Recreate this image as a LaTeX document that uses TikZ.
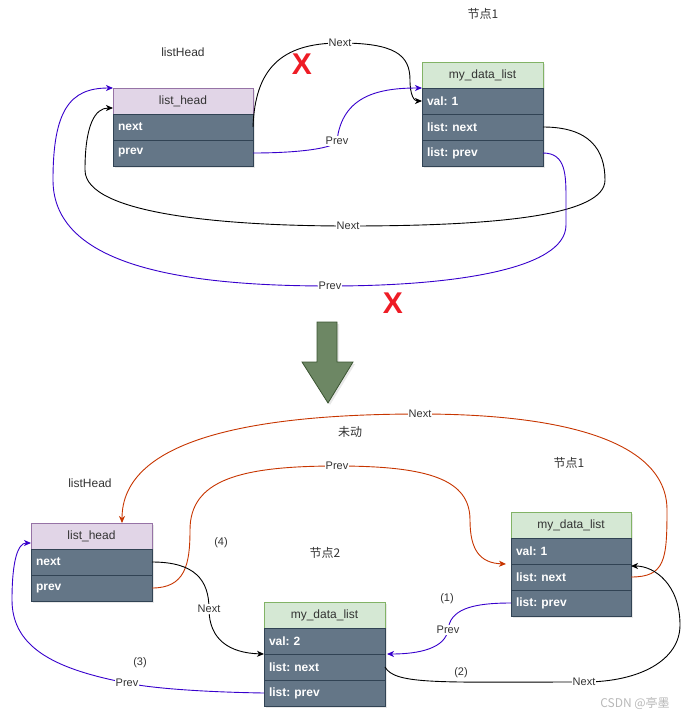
\documentclass[tikz,border=0pt]{standalone}
\usepackage{fontspec}
\setmainfont{Liberation Sans}
\newfontfamily\cjk{Noto Sans CJK SC}
\usetikzlibrary{arrows.meta,calc,shadows}
\definecolor{lilacF}{HTML}{E1D5E7}
\definecolor{lilacD}{HTML}{9673A6}
\definecolor{greenF}{HTML}{D5E8D4}
\definecolor{greenD}{HTML}{82B366}
\definecolor{rowF}{HTML}{647687}
\definecolor{rowD}{HTML}{314354}
\definecolor{txt}{HTML}{333333}
\definecolor{redE}{HTML}{C73500}
\definecolor{blueE}{HTML}{3700CC}
\definecolor{arrF}{HTML}{6D8764}
\definecolor{arrD}{HTML}{3A5431}
\definecolor{crossR}{HTML}{EE1C25}
\newcommand\myfA{\fontsize{12}{14}\selectfont}
\newcommand\myfB{\fontsize{11}{13}\selectfont}
\frenchspacing
\begin{document}
\begin{tikzpicture}[x=1pt,y=-1pt,
  box/.style={anchor=north west, inner ysep=0pt, minimum height=26pt, outer sep=0pt,
    drop shadow={opacity=0.18,shadow xshift=2pt,shadow yshift=-2pt}},
  hdrL/.style={box, draw=lilacD, fill=lilacF, text=txt, minimum width=#1, inner xsep=0pt, font=\myfA},
  hdrG/.style={box, draw=greenD, fill=greenF, text=txt, minimum width=#1, inner xsep=0pt, font=\myfA},
  rowbox/.style={box, draw=rowD, fill=rowF, text=white, text width=#1, inner xsep=5pt, align=left, font=\myfA\bfseries\frenchspacing},
  edge/.style={line width=0.9pt, -{Stealth[length=7pt,width=6pt,inset=2pt]}},
  lbl/.style={fill=white, inner sep=1pt, font=\myfB, text=txt},
  note/.style={font=\myfA, text=txt},
  snote/.style={font=\myfB, text=txt},
  cross/.style={font=\fontsize{30}{30}\selectfont\bfseries, text=crossR, inner sep=0pt}
]
\useasboundingbox (0,0) rectangle (685,718);

% ---------- top part ----------
\node[hdrL=140pt] (lhh) at (113,88) {list\_head};
\node[rowbox=130pt] (lhn) at (113,114) {next};
\node[rowbox=130pt] (lhp) at (113,140) {prev};

\node[hdrG=121pt] (m1h) at (422,62) {my\_data\_list};
\node[rowbox=111pt] (m1v) at (422,88) {val: 1};
\node[rowbox=111pt] (m1n) at (422,114) {list: next};
\node[rowbox=111pt] (m1p) at (422,140) {list: prev};

\node[note] (t1) at (183,52) {listHead};
\node[note] (t2) at (483,14) {\cjk 节点1};

\draw[edge] (lhn.east) .. controls (255,70) and (280,43) .. (340,43) node[lbl] (la) {Next}
  .. controls (395,43) and (410,55) .. (410,80) .. controls (410,95) and (414,101) .. (m1v.west);
\draw[edge, blueE] (lhp.east) .. controls (300,153) and (335,148) .. (337,141) node[lbl] (lb) {Prev}
  .. controls (342,95) and (380,88) .. (m1h.south west);
\draw[edge] (m1n.east) .. controls (590,127) and (605,150) .. (605,180)
  .. controls (605,215) and (500,226) .. (348,226) node[lbl] (lc) {Next}
  .. controls (230,226) and (85,215) .. (85,170)
  .. controls (85,125) and (95,108) .. ($(lhh.south west)+(0,-6)$);
\draw[edge, blueE] (m1p.east) .. controls (566,153) and (566,175) .. (566,200) -- (566,225)
  .. controls (566,270) and (450,286) .. (330,286) node[lbl] (ld) {Prev}
  .. controls (180,286) and (53,265) .. (53,180)
  .. controls (53,110) and (70,88) .. (lhh.north west);

\node[cross] (x1) at (302,64) {X};
\node[cross] (x2) at (393,303) {X};

% big arrow
\draw[fill=arrF, draw=arrD, line width=0.8pt, drop shadow={opacity=0.18,shadow xshift=2pt,shadow yshift=-2pt}]
  (317,322) -- (337,322) -- (337,362) -- (353,362) -- (328,403) -- (302,362) -- (317,362) -- cycle;

% ---------- bottom part ----------
\node[hdrL=121pt] (lh2h) at (31,523) {list\_head};
\node[rowbox=111pt] (lh2n) at (31,549) {next};
\node[rowbox=111pt] (lh2p) at (31,575) {prev};

\node[hdrG=120pt] (n1h) at (511,512) {my\_data\_list};
\node[rowbox=110pt] (n1v) at (511,538) {val: 1};
\node[rowbox=110pt] (n1n) at (511,564) {list: next};
\node[rowbox=110pt] (n1p) at (511,590) {list: prev};

\node[hdrG=121pt] (n2h) at (264,602) {my\_data\_list};
\node[rowbox=111pt] (n2v) at (264,628) {val: 2};
\node[rowbox=111pt] (n2n) at (264,654) {list: next};
\node[rowbox=111pt] (n2p) at (264,680) {list: prev};

\node[note] (t3) at (90,483) {listHead};
\node[note] (t4) at (350,432) {\cjk 未动};
\node[note] (t5) at (569,463) {\cjk 节点1};
\node[note] (t6) at (325,553) {\cjk 节点2};
\node[snote] (s4) at (221,543) {(4)};
\node[snote] (s1) at (447,599) {(1)};
\node[snote] (s2) at (461,673) {(2)};
\node[snote] (s3) at (140,663) {(3)};

\draw[edge, redE] (n1n.east) .. controls (665,577) and (667,560) .. (667,510)
  .. controls (667,440) and (560,414) .. (420,414) node[lbl] (le) {Next}
  .. controls (250,414) and (122,440) .. ($(lh2h.north east)+(-30,0)$);
\draw[edge, redE] (lh2p.east) .. controls (185,588) and (190,565) .. (190,530)
  .. controls (190,480) and (240,466) .. (337,466) node[lbl] (lf) {Prev}
  .. controls (430,466) and (470,480) .. (470,520)
  .. controls (470,550) and (480,563) .. ($(n1v.south west)+(-5,0)$);
\draw[edge] (lh2n.east) .. controls (195,562) and (209,580) .. (209,609) node[lbl] (lg) {Next}
  .. controls (209,640) and (230,653) .. (n2v.south west);
\draw[edge, blueE] (n1p.west) .. controls (470,603) and (450,610) .. (448,630) node[lbl] (lh) {Prev}
  .. controls (445,648) and (420,654) .. ($(n2v.south east)+(2,0)$);
\draw[edge] (n2n.east) .. controls (395,685) and (440,682) .. (584,682) node[lbl] (li) {Next}
  .. controls (640,682) and (680,660) .. (680,625)
  .. controls (680,585) and (655,566) .. ($(n1n.north east)+(0,2)$);
\draw[edge, blueE] (n2p.west) .. controls (200,692) and (150,688) .. (127,683) node[lbl] (lj) {Prev}
  .. controls (60,670) and (12,650) .. (12,600)
  .. controls (12,560) and (18,543) .. ($(lh2h.south west)+(0,-6)$);

\node[font=\myfA, text=black!28] (wm) at (635,703) {\cjk CSDN @亭墨};
\end{tikzpicture}
\end{document}
